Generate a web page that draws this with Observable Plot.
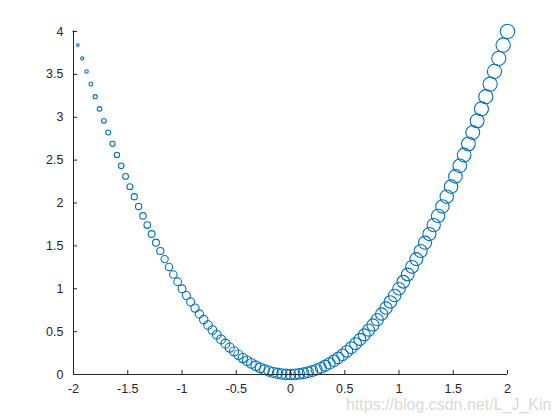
<!DOCTYPE html>
<html><head><meta charset="utf-8">
<script src="https://cdn.jsdelivr.net/npm/d3@7"></script>
<script src="https://cdn.jsdelivr.net/npm/@observablehq/plot@0.6"></script>
<style>
body{margin:0;background:#fff;}
#wrap{position:relative;width:560px;height:420px;overflow:hidden;}
#wm{position:absolute;left:346px;top:396px;font:16px/18px "Liberation Sans",Arial,sans-serif;color:rgba(212,212,212,0.9);white-space:nowrap;}
</style></head>
<body><div id="wrap"><div id="chart"></div><div id="wm">https://blog.csdn.net/L_J_Kin</div></div>
<script>
// x values -2:0.04:2 (101 samples), y = x^2, marker size grows with x
const xs = [-2,-1.96,-1.92,-1.88,-1.84,-1.8,-1.76,-1.72,-1.68,-1.64,-1.6,-1.56,-1.52,-1.48,-1.44,-1.4,-1.36,-1.32,-1.28,-1.24,-1.2,-1.16,-1.12,-1.08,-1.04,-1,-0.96,-0.92,-0.88,-0.84,-0.8,-0.76,-0.72,-0.68,-0.64,-0.6,-0.56,-0.52,-0.48,-0.44,-0.4,-0.36,-0.32,-0.28,-0.24,-0.2,-0.16,-0.12,-0.08,-0.04,0,0.04,0.08,0.12,0.16,0.2,0.24,0.28,0.32,0.36,0.4,0.44,0.48,0.52,0.56,0.6,0.64,0.68,0.72,0.76,0.8,0.84,0.88,0.92,0.96,1,1.04,1.08,1.12,1.16,1.2,1.24,1.28,1.32,1.36,1.4,1.44,1.48,1.52,1.56,1.6,1.64,1.68,1.72,1.76,1.8,1.84,1.88,1.92,1.96,2];
const ys = xs.map(v => +(v*v).toFixed(4));
const sizes = xs.map(v => +(v + 2).toFixed(2));
const xTicks = [-2,-1.5,-1,-0.5,0,0.5,1,1.5,2];
const yTicks = [0,0.5,1,1.5,2,2.5,3,3.5,4];

const data = xs.map((x,i) => ({x, y: ys[i], s: sizes[i]}));
const axisColor = "#262626";
const chart = Plot.plot({
  width: 560, height: 420,
  marginLeft: 73, marginRight: 53, marginTop: 31, marginBottom: 46,
  style: {fontFamily: "'Liberation Sans', Arial, sans-serif", fontSize: "12.5px", color: axisColor, background: "#fff"},
  x: {domain: [-2, 2]},
  y: {domain: [0, 4]},
  r: {domain: [0, 4], range: [0.6, 7.2]},
  marks: [
    Plot.dot(data, {x: "x", y: "y", r: "s", stroke: "#0072BD", strokeWidth: 1.1, fill: "none"}),
    Plot.ruleY([0], {stroke: axisColor}),
    Plot.ruleX([-2], {stroke: axisColor}),
    Plot.ruleX(xTicks, {x: d => d, y1: 0, y2: 0, insetTop: -4, stroke: axisColor}),
    Plot.ruleY(yTicks, {y: d => d, x1: -2, x2: -2, insetRight: -4, stroke: axisColor}),
    Plot.axisX(xTicks, {tickSize: 0, tickPadding: 10, fill: axisColor, label: null, tickFormat: d => String(d)}),
    Plot.axisY(yTicks, {tickSize: 0, tickPadding: 10, fill: axisColor, label: null, tickFormat: d => String(d)})
  ]
});
document.getElementById("chart").append(chart);
</script></body></html>
